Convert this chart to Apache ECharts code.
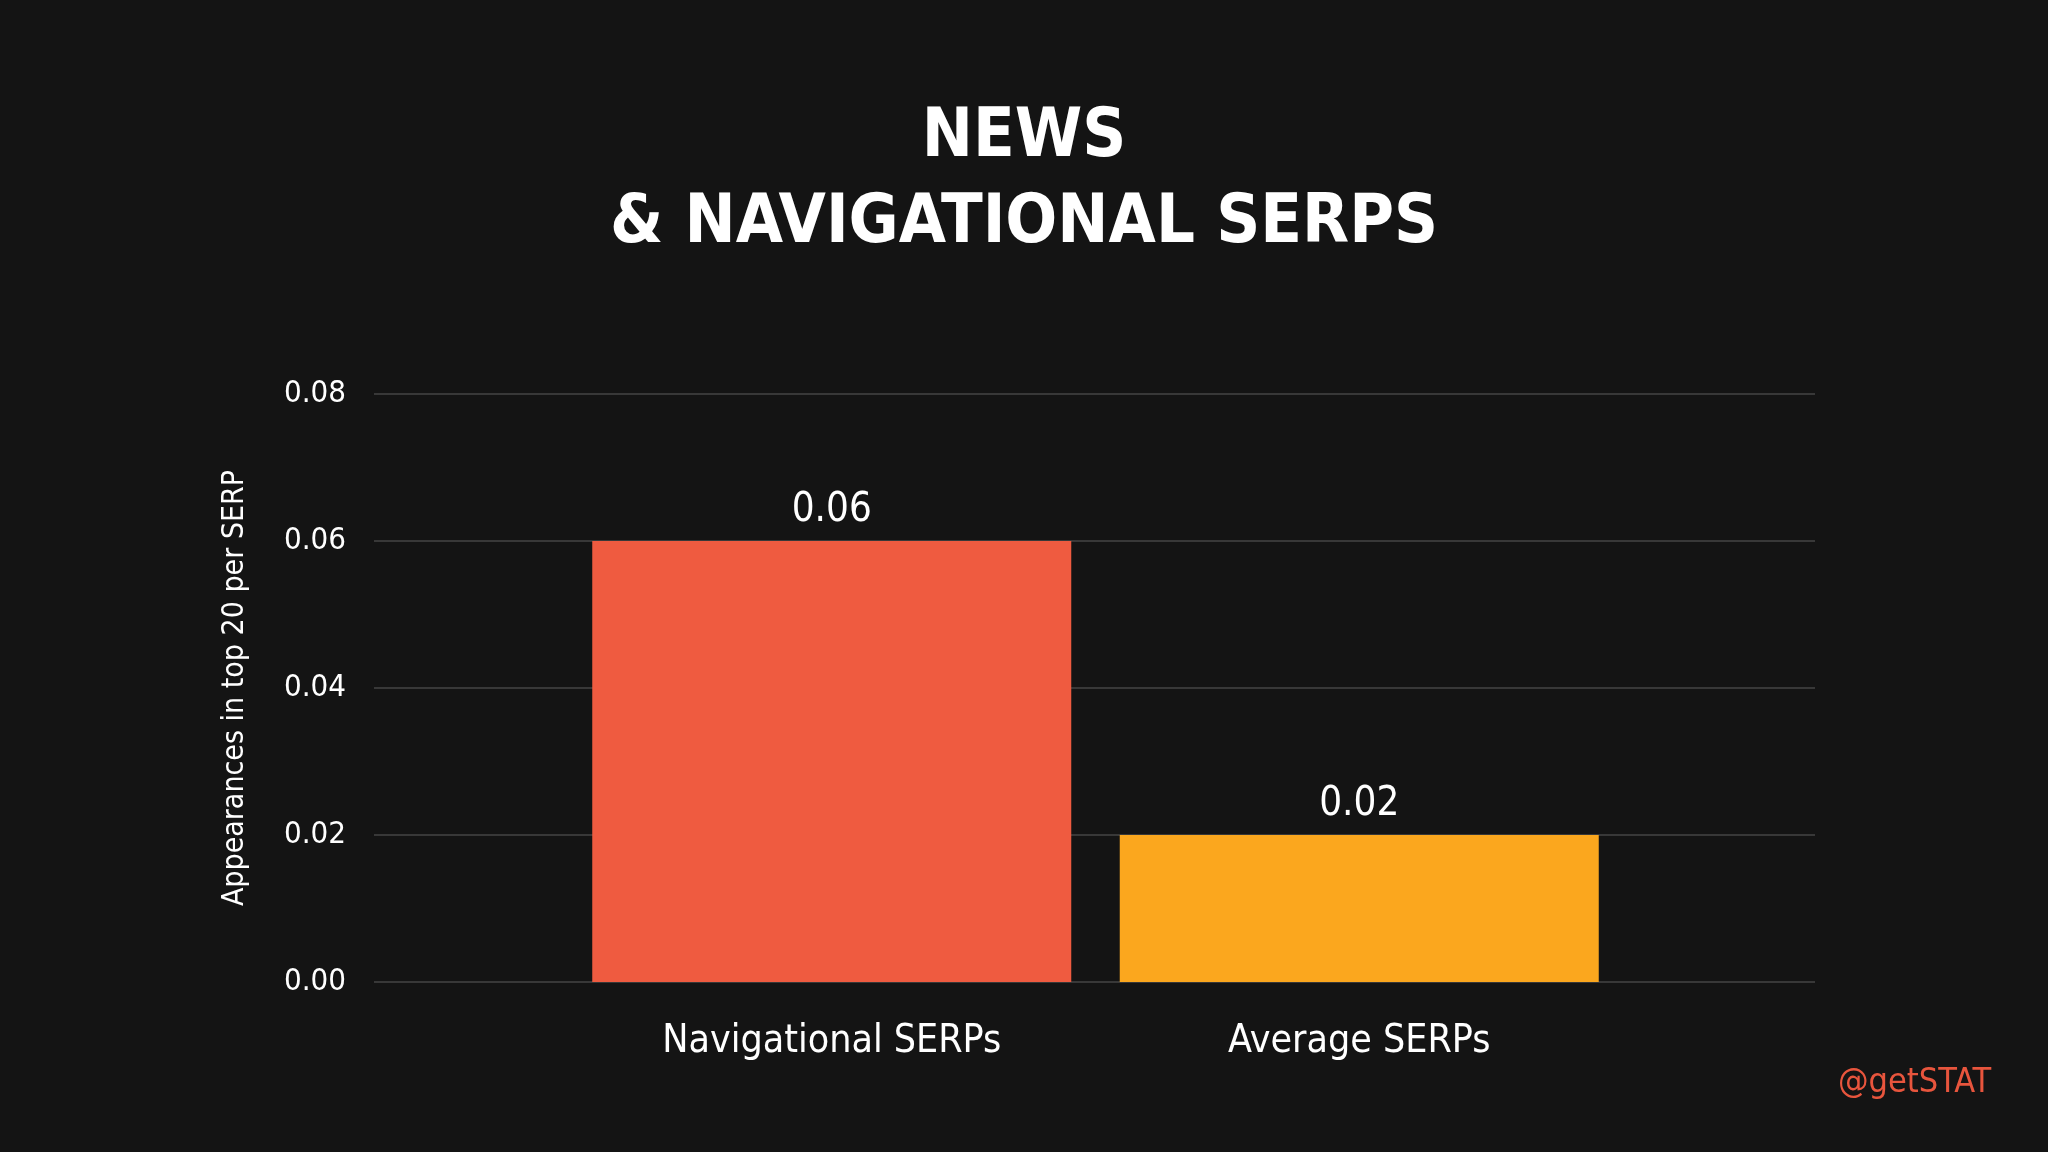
<!DOCTYPE html>
<html><head><meta charset="utf-8">
<script src="https://cdn.jsdelivr.net/npm/echarts@6/dist/echarts.min.js"></script>
<style>html,body{margin:0;background:#141414}#c{width:2048px;height:1152px}</style>
</head><body><div id="c"></div>
<script>
var categories = ['Navigational SERPs', 'Average SERPs'];
var values = [0.06, 0.02];
var barColors = ['#ef5b40', '#fba71e'];
var yTicks = [0, 0.02, 0.04, 0.06, 0.08];

var font = "'DejaVu Sans Condensed', 'Liberation Sans', sans-serif";
var chart = echarts.init(document.getElementById('c'));
chart.setOption({
  backgroundColor: '#141414',
  title: {
    text: 'NEWS\n& NAVIGATIONAL SERPS',
    left: 'center', top: 90,
    textStyle: { color: '#fff', fontSize: 68, fontWeight: 'bold', fontFamily: font, lineHeight: 86 }
  },
  graphic: [{
    type: 'text', left: 1838, top: 1066,
    style: { text: '@getSTAT', fill: '#e8553d', font: '34px ' + font }
  }],
  grid: [
    { left: 374, right: 233, top: 394, bottom: 170 },
    { left: 568, right: 425, top: 394, bottom: 170 }
  ],
  xAxis: [
    { type: 'category', gridIndex: 0, data: [''], show: false },
    { type: 'category', gridIndex: 1, data: categories,
      axisLine: { show: false }, axisTick: { show: false },
      axisLabel: { color: '#fff', fontSize: 39, fontFamily: font, margin: 40 } }
  ],
  yAxis: [
    { type: 'value', gridIndex: 0, min: yTicks[0], max: yTicks[yTicks.length - 1], interval: 0.02,
      name: 'Appearances in top 20 per SERP', nameLocation: 'middle', nameGap: 124,
      nameTextStyle: { color: '#fff', fontSize: 30, fontFamily: font },
      axisLabel: { color: '#fff', fontSize: 31, fontFamily: font, margin: 28,
        formatter: function (v) { return v.toFixed(2); } },
      splitLine: { lineStyle: { color: '#444', width: 1.5 } } },
    { type: 'value', gridIndex: 1, min: 0, max: 0.08, show: false, splitLine: { show: false } }
  ],
  series: [{
    type: 'bar', xAxisIndex: 1, yAxisIndex: 1, barWidth: 479,
    data: values.map(function (v, i) { return { value: v, itemStyle: { color: barColors[i] } }; }),
    label: { show: true, position: 'top', distance: 10, color: '#fff', fontSize: 40, fontFamily: font,
      formatter: function (p) { return p.value.toFixed(2); } }
  }]
});
</script></body></html>
